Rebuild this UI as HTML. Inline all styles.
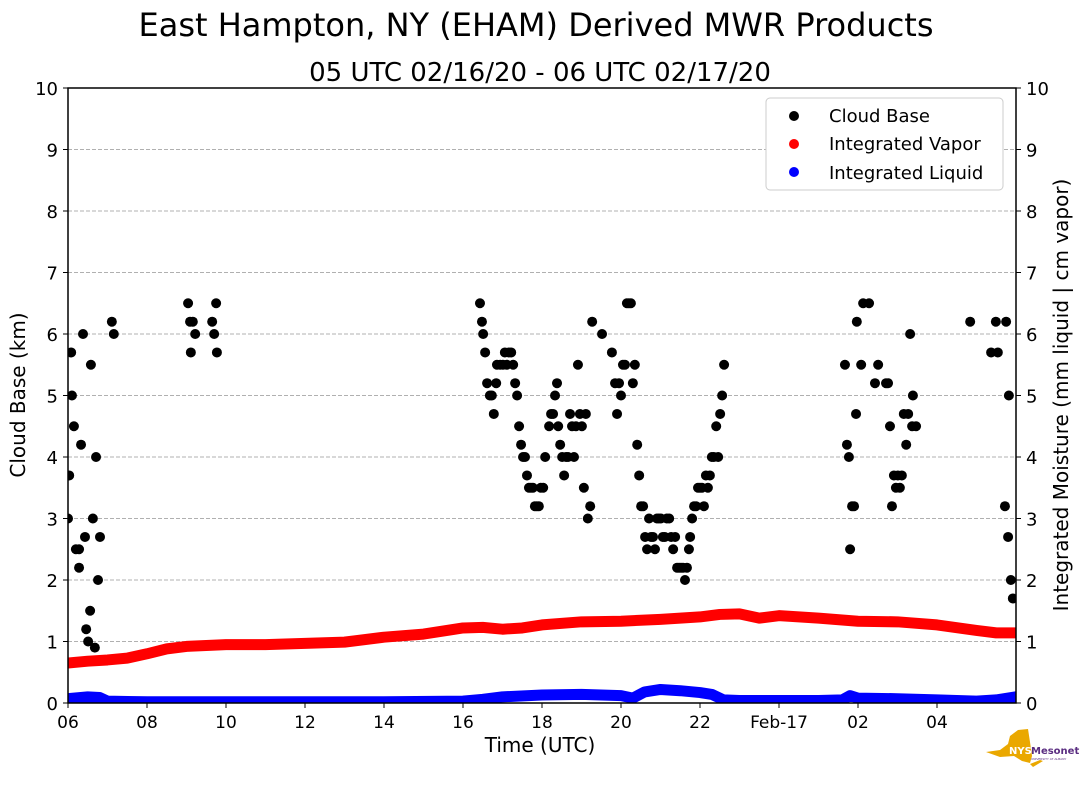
<!DOCTYPE html>
<html><head><meta charset="utf-8">
<style>
body{margin:0;background:#fff;font-family:"Liberation Sans","DejaVu Sans",sans-serif;}
svg text{font-family:"DejaVu Sans","Liberation Sans",sans-serif;}
</style></head>
<body>
<svg id="chart" width="1089" height="804" xmlns="http://www.w3.org/2000/svg">
<defs><clipPath id="plotclip"><rect x="68" y="88" width="948" height="615"/></clipPath></defs>
<text x="536" y="36" font-size="32" text-anchor="middle">East Hampton, NY (EHAM) Derived MWR Products</text>
<text x="540" y="81" font-size="26" text-anchor="middle">05 UTC 02/16/20 - 06 UTC 02/17/20</text>
<g id="grid"></g>
<g id="series" clip-path="url(#plotclip)"></g>
<rect x="68" y="88" width="948" height="615" fill="none" stroke="#000" stroke-width="1.5"/>
<g id="axes"></g>
<text x="540" y="752" font-size="20" text-anchor="middle">Time (UTC)</text>
<text transform="translate(25,395) rotate(-90)" font-size="20" text-anchor="middle">Cloud Base (km)</text>
<text transform="translate(1068,395) rotate(-90)" font-size="20" text-anchor="middle">Integrated Moisture (mm liquid | cm vapor)</text>
<g>
<rect x="766" y="98" width="237" height="92" rx="4" fill="#fff" stroke="#ccc"/>
<circle cx="794" cy="116" r="5" fill="#000"/><text x="829" y="122" font-size="18">Cloud Base</text>
<circle cx="794" cy="144" r="5" fill="#f00"/><text x="829" y="150" font-size="18">Integrated Vapor</text>
<circle cx="794" cy="172" r="5" fill="#00f"/><text x="829" y="179" font-size="18">Integrated Liquid</text>
</g>
<g>
<path d="M986 752 L1000 750 L1008 744 L1010 736 L1018 730 L1028 729 L1030 742 L1032 756 L1030 763 L1022 761 L1014 756 L1000 757 Z" fill="#eaa800"/>
<path d="M1030 764 L1040 760 L1043 761 L1033 767 Z" fill="#eaa800"/>
<text x="1009" y="754" font-size="10" font-weight="bold" fill="#fff">NYS</text>
<text x="1031" y="754" font-size="10" font-weight="bold" fill="#5a2d81">Mesonet</text>
<text x="1031" y="760" font-size="3" fill="#5a2d81">UNIVERSITY AT ALBANY</text>
</g>
</svg>
<script>
const cloudHours=[0,0.03,0.08,0.10,0.15,0.20,0.28,0.28,0.33,0.38,0.43,0.46,0.51,0.56,0.58,0.63,0.68,0.71,0.76,0.81,1.11,1.16,3.04,3.09,3.11,3.16,3.22,3.65,3.70,3.75,3.77,
10.43,10.48,10.51,10.56,10.61,10.68,10.73,10.78,10.84,10.86,10.94,11.01,11.06,11.11,11.16,11.22,11.27,11.32,11.37,11.42,11.47,11.52,11.57,11.62,11.67,11.72,11.77,11.82,11.87,11.92,11.97,12.03,12.08,12.18,12.23,12.28,12.33,12.38,12.41,12.46,12.51,12.56,12.61,12.66,12.71,12.76,12.81,12.86,12.91,12.96,13.01,13.06,13.11,13.16,13.22,13.27,13.52,13.77,13.85,13.90,13.95,14.00,14.05,14.10,14.15,14.20,14.25,14.30,14.35,14.41,14.46,14.51,14.56,14.61,14.66,14.71,14.76,14.81,14.86,14.91,14.96,15.01,15.06,15.11,15.16,15.22,15.27,15.32,15.37,15.42,15.47,15.52,15.57,15.62,15.67,15.72,15.75,15.80,15.85,15.90,15.95,16.00,16.05,16.10,16.15,16.20,16.25,16.30,16.35,16.41,16.46,16.51,16.56,16.61,
19.67,19.72,19.77,19.80,19.85,19.90,19.95,19.97,20.08,20.13,20.28,20.43,20.51,20.71,20.76,20.81,20.86,20.91,20.96,21.01,21.06,21.11,21.16,21.22,21.27,21.32,21.37,21.39,21.47,22.84,23.37,23.49,23.54,23.72,23.75,23.80,23.82,23.87,23.92];
const cloudKm=[3.0,3.7,5.7,5.0,4.5,2.5,2.5,2.2,4.2,6.0,2.7,1.2,1.0,1.5,5.5,3.0,0.9,4.0,2.0,2.7,6.2,6.0,6.5,6.2,5.7,6.2,6.0,6.2,6.0,6.5,5.7,
6.5,6.2,6.0,5.7,5.2,5.0,5.0,4.7,5.2,5.5,5.5,5.5,5.7,5.5,5.7,5.7,5.5,5.2,5.0,4.5,4.2,4.0,4.0,3.7,3.5,3.5,3.5,3.2,3.2,3.2,3.5,3.5,4.0,4.5,4.7,4.7,5.0,5.2,4.5,4.2,4.0,3.7,4.0,4.0,4.7,4.5,4.0,4.5,5.5,4.7,4.5,3.5,4.7,3.0,3.2,6.2,6.0,5.7,5.2,4.7,5.2,5.0,5.5,5.5,6.5,6.5,6.5,5.2,5.5,4.2,3.7,3.2,3.2,2.7,2.5,3.0,2.7,2.7,2.5,3.0,3.0,3.0,2.7,2.7,3.0,3.0,2.7,2.5,2.7,2.2,2.2,2.2,2.2,2.0,2.2,2.5,2.7,3.0,3.2,3.2,3.5,3.5,3.5,3.2,3.7,3.5,3.7,4.0,4.0,4.5,4.0,4.7,5.0,5.5,
5.5,4.2,4.0,2.5,3.2,3.2,4.7,6.2,5.5,6.5,6.5,5.2,5.5,5.2,5.2,4.5,3.2,3.7,3.5,3.7,3.5,3.7,4.7,4.2,4.7,6.0,4.5,5.0,4.5,6.2,5.7,6.2,5.7,3.2,6.2,2.7,5.0,2.0,1.7];
const vaporHours=[0,0.5,1,1.5,2,2.5,3,4,5,6,7,8,9,10,10.5,11,11.5,12,13,14,15,16,16.5,17,17.5,18,19,20,21,22,23,23.5,24];
const vaporCm=[0.65,0.68,0.7,0.73,0.8,0.88,0.92,0.95,0.95,0.97,0.99,1.07,1.12,1.22,1.23,1.2,1.22,1.27,1.32,1.33,1.36,1.4,1.44,1.45,1.38,1.42,1.38,1.33,1.32,1.27,1.18,1.14,1.14];
const liquidHours=[0,0.5,0.8,1,2,4,6,8,10,10.5,11,12,13,14,14.3,14.6,15,15.5,16,16.3,16.6,17,18,19,19.6,19.8,20,21,22,23,23.5,24];
const liquidMm=[0.07,0.1,0.09,0.03,0.02,0.02,0.02,0.02,0.03,0.06,0.1,0.13,0.14,0.12,0.08,0.18,0.22,0.2,0.17,0.14,0.05,0.04,0.04,0.04,0.05,0.12,0.08,0.07,0.05,0.03,0.05,0.1];
const xTickHours=[0,2,4,6,8,10,12,14,16,18,20,22];
const xTickLabels=["06","08","10","12","14","16","18","20","22","Feb-17","02","04"];
const yTicks=[0,1,2,3,4,5,6,7,8,9,10];

const NS="http://www.w3.org/2000/svg";
const X0=68,X1=1016,Y0=703,Y1=88;
function xs(h){return X0+(X1-X0)*h/24;}
function ys(v){return Y0-(Y0-Y1)*v/10;}
function mk(tag,attrs,parent){const e=document.createElementNS(NS,tag);for(const k in attrs)e.setAttribute(k,attrs[k]);parent.appendChild(e);return e;}
const grid=document.getElementById('grid'),axes=document.getElementById('axes'),ser=document.getElementById('series');
yTicks.forEach(v=>{
  if(v>0&&v<10){const g=mk('line',{x1:X0,x2:X1,y1:ys(v),y2:ys(v),stroke:'#b0b0b0','stroke-dasharray':'4,2','stroke-width':1},grid);
  
  }
  mk('line',{x1:X0-5,x2:X0,y1:ys(v),y2:ys(v),stroke:'#000'},axes);
  mk('line',{x1:X1,x2:X1+5,y1:ys(v),y2:ys(v),stroke:'#000'},axes);
  const l=mk('text',{x:X0-10,y:ys(v)+7,'font-size':18,'text-anchor':'end'},axes);l.textContent=v;
  
  
  const r=mk('text',{x:X1+10,y:ys(v)+7,'font-size':18},axes);r.textContent=v;
  
  
});
xTickHours.forEach((h,i)=>{
  mk('line',{x1:xs(h),x2:xs(h),y1:Y0,y2:Y0+5,stroke:'#000'},axes);
  const t=mk('text',{x:xs(h),y:Y0+25,'font-size':17,'text-anchor':'middle'},axes);t.textContent=xTickLabels[i];
  
  
});
function line(hs,vs,color,name){
  const p=mk('polyline',{points:hs.map((h,i)=>xs(h)+','+ys(vs[i])).join(' '),fill:'none',stroke:color,'stroke-width':11,'stroke-linejoin':'round','stroke-linecap':'round'},ser);
  
  
}
line(vaporHours,vaporCm,'#f00','integrated-vapor-series');
line(liquidHours,liquidMm,'#00f','integrated-liquid-series');
cloudHours.forEach((h,i)=>{
  const c=mk('circle',{cx:xs(h),cy:ys(cloudKm[i]),r:5,fill:'#000'},ser);
  
  
});
</script>
</body></html>
